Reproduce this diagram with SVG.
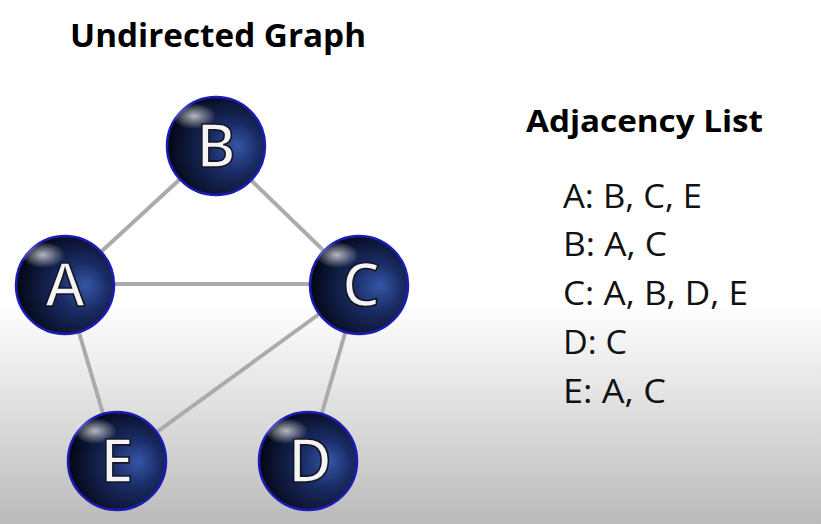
<svg xmlns="http://www.w3.org/2000/svg" width="821" height="524" viewBox="0 0 821 524">
<defs>
<linearGradient id="bg" x1="0" y1="0" x2="0" y2="1">
<stop offset="0" stop-color="#ffffff"/>
<stop offset="0.58" stop-color="#ffffff"/>
<stop offset="0.75" stop-color="#e4e4e4"/>
<stop offset="1" stop-color="#bababa"/>
</linearGradient>
<radialGradient id="ball" cx="0.64" cy="0.55" r="0.62" fx="0.72" fy="0.5">
<stop offset="0" stop-color="#3656a6"/>
<stop offset="0.4" stop-color="#1a2c66"/>
<stop offset="1" stop-color="#040817"/>
</radialGradient>
<radialGradient id="gloss" cx="0.5" cy="0.5" r="0.5">
<stop offset="0" stop-color="#ffffff" stop-opacity="0.7"/>
<stop offset="1" stop-color="#ffffff" stop-opacity="0"/>
</radialGradient>
</defs>
<style>
.edge{stroke:#ababab;stroke-width:4;stroke-linecap:round}
.ball{fill:url(#ball);stroke:#1c1cb4;stroke-width:2.5}
.gl{fill:url(#gloss)}
.lbl{font-family:"Open Sans","DejaVu Sans",sans-serif;font-size:60px;font-weight:600;fill:#f4f4f4;stroke:#15151f;stroke-width:1.6;text-anchor:middle}
.title{font-family:"Open Sans","Liberation Sans",sans-serif;font-weight:bold;fill:#000}
.list{font-family:"Open Sans","Liberation Sans",sans-serif;font-size:32px;fill:#111}
</style>
<rect width="821" height="524" fill="url(#bg)"/>
<text class="title" x="70" y="47" font-size="33" textLength="296" lengthAdjust="spacingAndGlyphs">Undirected Graph</text>
<text class="title" x="526" y="132" font-size="31" textLength="237" lengthAdjust="spacingAndGlyphs">Adjacency List</text>
<g id="list" class="list">
<text x="563" y="208" textLength="139" lengthAdjust="spacingAndGlyphs">A: B, C, E</text>
<text x="563" y="256" textLength="104" lengthAdjust="spacingAndGlyphs">B: A, C</text>
<text x="563" y="305" textLength="185" lengthAdjust="spacingAndGlyphs">C: A, B, D, E</text>
<text x="563" y="354" textLength="64" lengthAdjust="spacingAndGlyphs">D: C</text>
<text x="563" y="403" textLength="103" lengthAdjust="spacingAndGlyphs">E: A, C</text>
</g>
<g id="edges">
<line class="edge" x1="65" y1="285" x2="216" y2="146"/>
<line class="edge" x1="216" y1="146" x2="359" y2="285"/>
<line class="edge" x1="65" y1="284" x2="359" y2="284"/>
<line class="edge" x1="65" y1="285" x2="117" y2="461"/>
<line class="edge" x1="359" y1="285" x2="117" y2="461"/>
<line class="edge" x1="359" y1="285" x2="308" y2="461"/>
</g>
<g id="node-B">
<circle class="ball" cx="216" cy="146" r="49"/>
<ellipse class="gl" cx="194" cy="116" rx="22" ry="13"/>
<text class="lbl" x="216" y="167">B</text>
</g>
<g id="node-A">
<circle class="ball" cx="65" cy="285" r="49"/>
<ellipse class="gl" cx="43" cy="255" rx="22" ry="13"/>
<text class="lbl" x="65" y="306">A</text>
</g>
<g id="node-C">
<circle class="ball" cx="359" cy="285" r="49"/>
<ellipse class="gl" cx="337" cy="255" rx="22" ry="13"/>
<text class="lbl" x="361" y="306">C</text>
</g>
<g id="node-E">
<circle class="ball" cx="117" cy="461" r="49"/>
<ellipse class="gl" cx="95" cy="431" rx="22" ry="13"/>
<text class="lbl" x="117" y="482">E</text>
</g>
<g id="node-D">
<circle class="ball" cx="308" cy="461" r="49"/>
<ellipse class="gl" cx="286" cy="431" rx="22" ry="13"/>
<text class="lbl" x="310" y="482">D</text>
</g>
</svg>
